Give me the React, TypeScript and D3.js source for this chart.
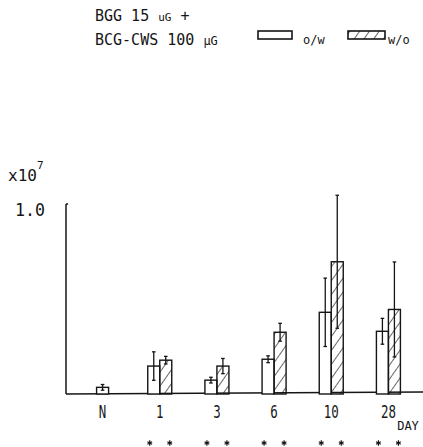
import { scaleBand, scaleLinear, symbol, symbolAsterisk } from "d3";

// days after injection and group means (x10^7)
const categories = ["N", "1", "3", "6", "10", "28"];
const days = ["1", "3", "6", "10", "28"];
const owMean = [0.147, 0.073, 0.183, 0.43, 0.33];
const owErr = [0.075, 0.015, 0.018, 0.18, 0.068];
const woMean = [0.178, 0.147, 0.325, 0.696, 0.445];
const woErr = [0.02, 0.04, 0.047, 0.35, 0.25];
const normalMean = 0.035;
const normalErr = 0.015;
const yTicks = [1.0];

const W = 423;
const H = 447;
const font = "'DejaVu Sans Mono', monospace";
const ink = "#151515";

const ErrBar = ({ x, y0, y1 }: { x: number; y0: number; y1: number }) => (
  <g stroke={ink} strokeWidth={1.3}>
    <line x1={x} x2={x} y1={y0} y2={y1} />
    <line x1={x - 1.8} x2={x + 1.8} y1={y0} y2={y0} />
    <line x1={x - 1.8} x2={x + 1.8} y1={y1} y2={y1} />
  </g>
);

export default function App() {
  const y = scaleLinear().domain([0, 1]).range([394, 204]);
  const fx = scaleBand().domain(categories).range([74, 417]);
  const x = scaleBand().domain(["o/w", "w/o"]).range([-12, 12]);
  const bw = x.bandwidth();
  const cx = (c: string) => (fx(c) ?? 0) + fx.bandwidth() / 2;
  const star = symbol(symbolAsterisk, 20)() ?? "";

  return (
    <svg width={W} height={H} style={{ position: "absolute", left: 0, top: 0, background: "#fff" }}>
      <defs>
        <pattern id="hatch" width={8} height={8} patternUnits="userSpaceOnUse" patternTransform="rotate(35)">
          <line x1={0} y1={0} x2={0} y2={8} stroke={ink} strokeWidth={1.3} />
        </pattern>
      </defs>

      {/* title + legend */}
      <g fontFamily={font} fill={ink}>
        <text x={95} y={21} fontSize={15}>
          BGG 15 <tspan fontSize={11}>uG</tspan> +
        </text>
        <text x={95} y={45} fontSize={15}>
          BCG-CWS 100 <tspan fontSize={12}>μG</tspan>
        </text>
        <rect x={258} y={31} width={34} height={8} fill="#fff" stroke={ink} strokeWidth={1.6} />
        <text x={303} y={44} fontSize={12}>o/w</text>
        <rect x={348} y={31} width={37} height={8} fill="url(#hatch)" stroke={ink} strokeWidth={1.6} />
        <text x={388} y={44} fontSize={12}>w/o</text>
      </g>

      {/* y axis */}
      <g fontFamily={font} fill={ink}>
        <text x={8} y={181} fontSize={16} textLength={29} lengthAdjust="spacingAndGlyphs">x10</text>
        <text x={37} y={169} fontSize={11}>7</text>
        {yTicks.map(t => (
          <text key={t} x={15} y={216} fontSize={17} textLength={30} lengthAdjust="spacingAndGlyphs">{t.toFixed(1)}</text>
        ))}
      </g>
      <line x1={66} x2={66} y1={y(1)} y2={y(0)} stroke={ink} strokeWidth={1.5} />
      <line x1={66} x2={68} y1={y(1)} y2={y(1)} stroke={ink} strokeWidth={1.5} />
      <line x1={66} x2={W} y1={y(0)} y2={y(0) - 2} stroke={ink} strokeWidth={1.5} />

      {/* normal control */}
      <rect x={cx("N") - bw / 2} y={y(normalMean)} width={bw} height={y(0) - y(normalMean)} fill="#fff" stroke={ink} strokeWidth={1.4} />
      <ErrBar x={cx("N")} y0={y(normalMean + normalErr)} y1={y(normalMean - normalErr)} />

      {/* bars */}
      {days.map((d, i) => {
        const c = cx(d);
        const xo = c + (x("o/w") ?? 0);
        const xw = c + (x("w/o") ?? 0);
        return (
          <g key={d}>
            <rect x={xo} y={y(owMean[i])} width={bw} height={y(0) - y(owMean[i])} fill="#fff" stroke={ink} strokeWidth={1.4} />
            <rect x={xw} y={y(woMean[i])} width={bw} height={y(0) - y(woMean[i])} fill="url(#hatch)" stroke={ink} strokeWidth={1.4} />
            <ErrBar x={xo + bw / 2} y0={y(owMean[i] + owErr[i])} y1={y(owMean[i] - owErr[i])} />
            <ErrBar x={xw + bw / 2} y0={y(woMean[i] + woErr[i])} y1={y(woMean[i] - woErr[i])} />
          </g>
        );
      })}

      {/* x labels */}
      <g fontFamily={font} fill={ink} textAnchor="middle">
        {categories.map(c => (
          <text key={c} x={cx(c)} y={418} fontSize={18} textLength={c.length * 7.5} lengthAdjust="spacingAndGlyphs">{c}</text>
        ))}
        <text x={408} y={430} fontSize={12}>DAY</text>
      </g>
      {/* significance marks */}
      {days.map(d => (
        <g key={d} fill={ink} stroke={ink} strokeWidth={1.2}>
          <path d={star} transform={`translate(${cx(d) - 10},443)`} />
          <path d={star} transform={`translate(${cx(d) + 10},443)`} />
        </g>
      ))}
    </svg>
  );
}
